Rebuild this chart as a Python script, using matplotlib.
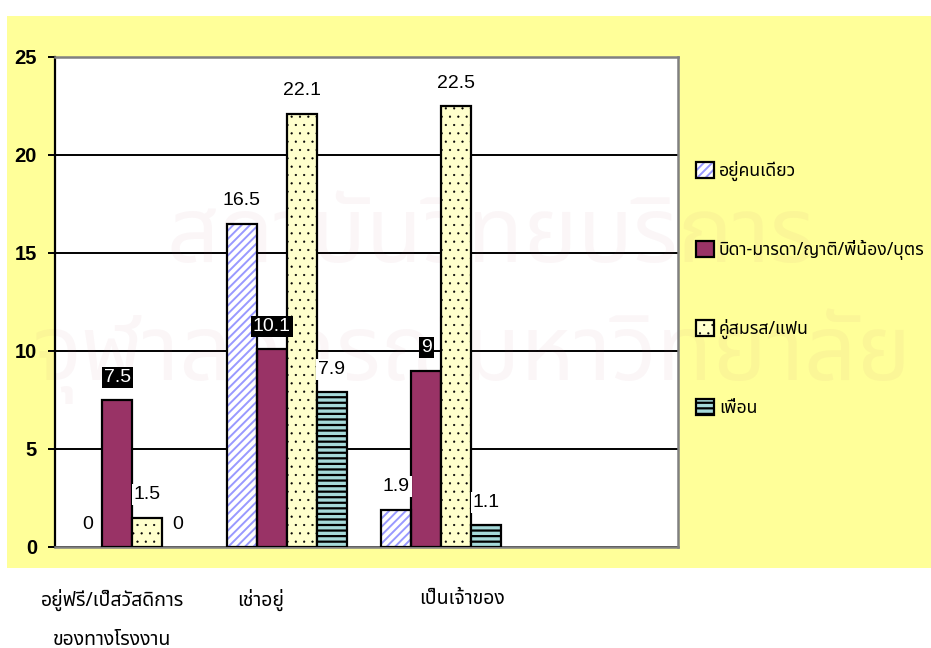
import numpy as np
import matplotlib
matplotlib.use("Agg")
import matplotlib.pyplot as plt
import matplotlib.transforms as mtransforms
from matplotlib import font_manager
from matplotlib.ft2font import FT2Font
from matplotlib.patches import Rectangle
from matplotlib.legend import Legend
from matplotlib.legend_handler import HandlerTuple

# ---- data -------------------------------------------------------------
categories = ["อยู่ฟรี/เป็สวัสดิการ\nของทางโรงงาน", "เช่าอยู่", "เป็นเจ้าของ"]
series_names = ["อยู่คนเดียว", "บิดา-มารดา/ญาติ/พี่น้อง/บุตร", "คู่สมรส/แฟน", "เพื่อน"]
alone = [0, 16.5, 1.9]
family = [7.5, 10.1, 9]
spouse = [1.5, 22.1, 22.5]
friends = [0, 7.9, 1.1]
y_ticks = [0, 5, 10, 15, 20, 25]
watermark_lines = ["สถาบันวิทยบริการ", "จุฬาลงกรณ์มหาวิทยาลัย"]


# ---- fonts ------------------------------------------------------------
def pick_thai_family():
    preferred = ["Noto Sans Thai", "Noto Sans Thai UI", "Noto Serif Thai",
                 "Garuda", "Loma", "Waree", "Norasi", "Kinnari", "Sawasdee",
                 "Umpush", "Tlwg Typo", "DejaVu Sans"]
    have = {}
    for entry in font_manager.fontManager.ttflist:
        if entry.name in have:
            continue
        try:
            if FT2Font(entry.fname).get_char_index(0x0E01):
                have[entry.name] = entry.fname
        except Exception:
            continue
    for name in preferred:
        if name in have:
            return name
    return next(iter(have), "DejaVu Sans")


THAI = pick_thai_family()
plt.rcParams["font.family"] = ["Liberation Sans", THAI, "DejaVu Sans"]
thai_fam = [THAI, "DejaVu Sans"]


# ---- hatch line width per artist ----------------------------------------
def hatch_width(artists, lw):
    """Draw the given patches with their own hatch line width."""
    for a in artists:
        if hasattr(a, "set_hatch_linewidth"):
            a.set_hatch_linewidth(lw)
        base_draw = a.draw

        def draw(renderer, _base=base_draw, _lw=lw):
            with plt.rc_context({"hatch.linewidth": _lw}):
                _base(renderer)
        a.draw = draw


# ---- figure -------------------------------------------------------------
W, H = 931, 648
fig = plt.figure(figsize=(W / 100, H / 100), dpi=100)
fig.patch.set_facecolor("white")

# pale yellow panel behind the chart
fig.patches.append(Rectangle((7 / W, 1 - 568 / H), (W - 7) / W, (568 - 16) / H,
                             transform=fig.transFigure, facecolor="#FFFF99",
                             edgecolor="none", zorder=-5))

ax = fig.add_axes([55 / W, 1 - 547 / H, (678 - 55) / W, (547 - 57) / H])
ax.set_facecolor("white")

x = np.arange(len(categories))
w = 0.194
offs = (np.arange(4) - 1.5) * w
EDGE_LW = 1.6
HATCH_LW = {"////": 1.4, "..": 0.35, "---": 1.6}

b1_fill = ax.bar(x + offs[0], alone, w, color="white", hatch="////",
                 edgecolor="#9999FF", linewidth=0, zorder=3)
b1_edge = ax.bar(x + offs[0], alone, w, fill=False, edgecolor="black",
                 linewidth=EDGE_LW, zorder=4)
b2 = ax.bar(x + offs[1], family, w, color="#993366", edgecolor="black",
            linewidth=EDGE_LW, zorder=3)
b3 = ax.bar(x + offs[2], spouse, w, color="#FFFFCC", hatch="..",
            edgecolor="black", linewidth=EDGE_LW, zorder=3)
b4 = ax.bar(x + offs[3], friends, w, color="#A6DADA", hatch="---",
            edgecolor="black", linewidth=EDGE_LW, zorder=3)

hatch_width(b1_fill, HATCH_LW["////"])
hatch_width(b3, HATCH_LW[".."])
hatch_width(b4, HATCH_LW["---"])

for bars, vals in ((b1_fill, alone), (b1_edge, alone), (b2, family),
                   (b3, spouse), (b4, friends)):
    for p, v in zip(bars, vals):
        if v == 0:
            p.set_visible(False)


# value labels
def label_bars(bars, vals, dark):
    for p, v in zip(bars, vals):
        ax.annotate(f"{v:g}", (p.get_x() + p.get_width() / 2, v),
                    xytext=(0, 16.5), textcoords="offset points",
                    ha="center", va="center", fontsize=14,
                    color="white" if dark else "black",
                    bbox=dict(boxstyle="square,pad=0.1",
                              fc="black" if dark else "white", ec="none"),
                    zorder=7, annotation_clip=False)


label_bars(b1_edge, alone, False)
label_bars(b2, family, True)
label_bars(b3, spouse, False)
label_bars(b4, friends, False)

# axes styling
ax.set_ylim(0, 25)
ax.set_xlim(-0.5, 3.53)
ax.set_yticks(y_ticks)
ax.set_yticklabels([str(t) for t in y_ticks], fontsize=14.5, fontweight="bold")
ax.tick_params(axis="y", direction="out", length=5, width=1.4, pad=8,
               colors="black")
ax.set_xticks([])
ax.yaxis.grid(True, color="black", linewidth=1.4)
ax.set_axisbelow(True)
for side in ("top", "right", "bottom"):
    ax.spines[side].set_color("#808080")
    ax.spines[side].set_linewidth(1.8)
ax.spines["left"].set_color("black")
ax.spines["left"].set_linewidth(1.6)

# faint watermark lettering
for txt, (wx, wy) in zip(watermark_lines, [(0.70, 0.63), (0.67, 0.39)]):
    ax.text(wx, wy, txt, transform=ax.transAxes, ha="center", va="center",
            fontsize=66, family=thai_fam, color=(0.7, 0.35, 0.45),
            alpha=0.05, zorder=1, clip_on=False)

# category labels under the panel
label_nudge = [-0.13, -0.17, 0.13]
trans = mtransforms.blended_transform_factory(ax.transData, ax.transAxes)
for xi, cat, dx in zip(x, categories, label_nudge):
    ax.text(xi + dx, -0.085, cat, transform=trans, ha="center", va="top",
            fontsize=14, family=thai_fam, linespacing=2.25, clip_on=False)

# legend: one row per series, evenly spaced down the right-hand side
thai_prop = font_manager.FontProperties(family=thai_fam, size=12.7)
handles = [(b1_fill[1], b1_edge[1]), b2[0], b3[1], b4[1]]
row_y = 171 + 79 * np.arange(len(series_names))
for h, name, yc in zip(handles, series_names, row_y):
    leg = Legend(ax, [h], [name],
                 handler_map={tuple: HandlerTuple(ndivide=1, pad=0)},
                 loc="center left", bbox_to_anchor=(696 / W, 1 - yc / H),
                 bbox_transform=fig.transFigure, frameon=False,
                 prop=thai_prop, handlelength=1.0, handleheight=1.0,
                 handletextpad=0.3, borderpad=0, borderaxespad=0)
    for patch in leg.findobj(Rectangle):
        hatch = patch.get_hatch()
        if hatch in HATCH_LW:
            hatch_width([patch], HATCH_LW[hatch])
    ax.add_artist(leg)

fig.savefig("out.png", dpi=100)
